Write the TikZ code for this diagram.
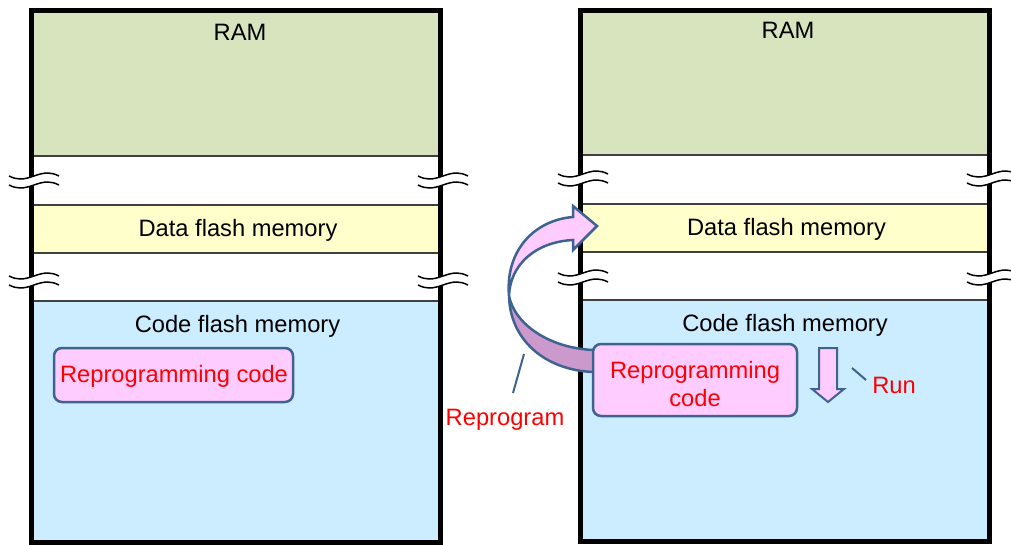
\documentclass[tikz,border=0pt]{standalone}
\usepackage{fontspec}
\setmainfont{Liberation Sans}
\definecolor{ramgreen}{HTML}{D7E4BD}
\definecolor{datayellow}{HTML}{FFFFCC}
\definecolor{codeblue}{HTML}{CCECFF}
\definecolor{pinkfill}{HTML}{FFCCFF}
\definecolor{pinkdark}{HTML}{CC99CC}
\definecolor{edgeblue}{HTML}{3F6391}
\definecolor{sepgray}{HTML}{404040}
\tikzset{
  lbl/.style={font=\fontsize{23.7}{28}\selectfont, inner sep=0pt, anchor=base},
  redlbl/.style={lbl, text=red},
  sepline/.style={draw=sepgray, line width=1.3pt},
  memborder/.style={draw=black, line width=5pt},
  wave/.style={draw=black, line width=1.5pt},
  pinkbox/.style={draw=edgeblue, fill=pinkfill, line width=2.5pt, rounded corners=8pt},
  leader/.style={draw=edgeblue, line width=2pt},
  brk/.pic={
    \fill[white] (-25,0) .. controls (-17,4) and (-11,4) .. (0,0) .. controls (11,-4) and (17,-4) .. (25,0)
      -- (25,9) .. controls (17,5) and (11,5) .. (0,9) .. controls (-11,13) and (-17,13) .. (-25,9) -- cycle;
    \draw[wave] (-25,0) .. controls (-17,4) and (-11,4) .. (0,0) .. controls (11,-4) and (17,-4) .. (25,0);
    \draw[wave] (-25,9) .. controls (-17,13) and (-11,13) .. (0,9) .. controls (11,5) and (17,5) .. (25,9);
  }
}
\begin{document}
\begin{tikzpicture}[x=1pt,y=-1pt]
\useasboundingbox (0,0) rectangle (1011,545);
% ---------- left memory map ----------
\fill[ramgreen] (31.5,10.5) rectangle (440,156);
\fill[white] (31.5,156) rectangle (440,205);
\fill[datayellow] (31.5,205) rectangle (440,253);
\fill[white] (31.5,253) rectangle (440,301);
\fill[codeblue] (31.5,301) rectangle (440,542.5);
\draw[sepline] (31.5,156) -- (440,156);
\draw[sepline] (31.5,205) -- (440,205);
\draw[sepline] (31.5,253) -- (440,253);
\draw[sepline] (31.5,301) -- (440,301);
\draw[memborder] (31.5,10.5) rectangle (440,542.5);
\pic at (34,176) {brk};
\pic at (34,276) {brk};
\pic at (443,176) {brk};
\pic at (443,276) {brk};
\node[lbl] (ramL) at (240,40.5) {RAM};
\node[lbl] (dataL) at (238,236.5) {Data flash memory};
\node[lbl] (codeL) at (237.5,332.5) {Code flash memory};
\node[pinkbox, minimum width=239pt, minimum height=54pt, inner sep=0pt] (repL) at (173.5,375) {};
\node[redlbl] (repLtxt) at (174,382) {Reprogramming code};
% ---------- right memory map ----------
\fill[ramgreen] (580,10.5) rectangle (989.5,155);
\fill[white] (580,155) rectangle (989.5,204);
\fill[datayellow] (580,204) rectangle (989.5,252);
\fill[white] (580,252) rectangle (989.5,300);
\fill[codeblue] (580,300) rectangle (989.5,541.5);
\draw[sepline] (580,155) -- (989.5,155);
\draw[sepline] (580,204) -- (989.5,204);
\draw[sepline] (580,252) -- (989.5,252);
\draw[sepline] (580,300) -- (989.5,300);
\draw[memborder] (580,10.5) rectangle (989.5,541.5);
\pic at (583,174) {brk};
\pic at (583,273) {brk};
\pic at (992,174) {brk};
\pic at (992,273) {brk};
\node[lbl] (ramR) at (788,38.5) {RAM};
\node[lbl] (dataR) at (786.5,235.5) {Data flash memory};
\node[lbl] (codeR) at (785,331.5) {Code flash memory};
% ---------- curved reprogram arrow ----------
\filldraw[fill=pinkdark, draw=edgeblue, line width=2.5pt, line join=round]
  (600,350) -- (593,350) .. controls (550,348) and (515,325) .. (509,296)
  .. controls (510,340) and (545,370) .. (593,372) -- (600,372);
\filldraw[fill=pinkfill, draw=edgeblue, line width=2.5pt, line join=miter]
  (509,296) .. controls (505,250) and (535,220) .. (573,217)
  -- (573,206) -- (597,226) -- (573,250) -- (573,240)
  .. controls (535,242) and (510,265) .. (509,296) -- cycle;
% ---------- right reprogramming box ----------
\node[pinkbox, minimum width=204pt, minimum height=72pt, inner sep=0pt] (repR) at (695,380) {};
\node[redlbl] (repRtxt1) at (695,378.3) {Reprogramming};
\node[redlbl] (repRtxt2) at (695,406) {code};
% ---------- run arrow ----------
\filldraw[fill=pinkfill, draw=edgeblue, line width=2pt, line join=miter]
  (819,348) -- (837,348) -- (837,389) -- (844,389) -- (828,402) -- (812,389) -- (819,389) -- cycle;
\node[redlbl] (run) at (894,393.3) {Run};
\coordinate (runA) at (852,368);
\coordinate (runB) at (866,380);
\draw[leader] (runA) -- (runB);
% ---------- reprogram label ----------
\node[redlbl] (reprog) at (505,425) {Reprogram};
\coordinate (repA) at (513,393);
\coordinate (repB) at (524,354);
\draw[leader] (repA) -- (repB);
\end{tikzpicture}
\end{document}
